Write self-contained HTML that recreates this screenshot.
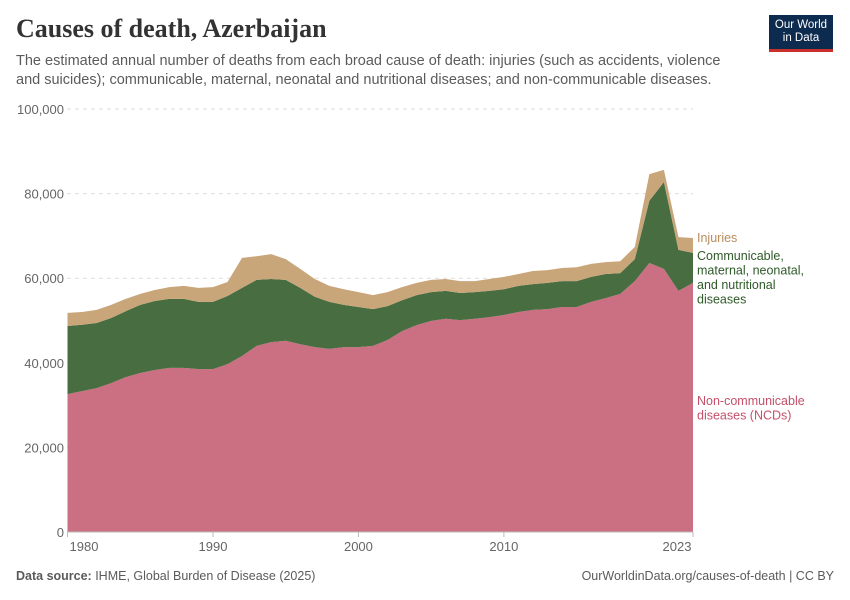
<!DOCTYPE html>
<html><head><meta charset="utf-8"><style>
body{margin:0;background:#fff;font-family:"Liberation Sans",sans-serif;}
#wrap{position:relative;width:850px;height:600px;overflow:hidden;}
h1{position:absolute;left:16px;top:14px;margin:0;font-family:"Liberation Serif",serif;font-weight:bold;font-size:26px;color:#333;}
.sub{position:absolute;left:16px;top:52px;width:720px;font-size:14.5px;line-height:19px;color:#5b5b5b;margin:0;}
.logo{position:absolute;left:769px;top:15px;width:64px;height:37px;background:#0d2a4f;color:#fff;font-size:11.5px;line-height:13px;text-align:center;padding-top:4px;box-sizing:border-box;border-bottom:3px solid #c9302c;}
.foot{position:absolute;top:569px;font-size:12.5px;color:#5b5b5b;}
</style></head><body><div id="wrap">
<h1>Causes of death, Azerbaijan</h1>
<p class="sub">The estimated annual number of deaths from each broad cause of death: injuries (such as accidents, violence and suicides); communicable, maternal, neonatal and nutritional diseases; and non-communicable diseases.</p>
<div class="logo">Our World<br>in Data</div>
<svg id="svg" width="850" height="600" style="position:absolute;left:0;top:0"></svg>
<div class="foot" style="left:16px"><b>Data source:</b> IHME, Global Burden of Disease (2025)</div>
<div class="foot" style="right:16px">OurWorldinData.org/causes-of-death | CC BY</div>
</div>
<script>
const years=[];for(let y=1980;y<=2023;y++)years.push(y);
const ncd=[32.6,33.3,34,35.2,36.6,37.6,38.3,38.8,38.8,38.5,38.5,39.7,41.6,44,44.9,45.2,44.4,43.7,43.3,43.7,43.7,44,45.4,47.5,48.9,49.9,50.4,50.1,50.4,50.8,51.3,52,52.5,52.7,53.2,53.2,54.4,55.3,56.3,59.3,63.6,62.2,57,58.9];
const comm=[16.1,15.7,15.4,15.4,15.6,16.1,16.3,16.3,16.3,15.9,15.9,16.1,16.1,15.6,14.9,14.4,13.3,11.9,11.1,10,9.5,8.7,8,7.3,7.1,6.8,6.6,6.4,6.3,6.2,6.1,6.2,6.1,6.2,6.1,6.1,5.9,5.7,4.9,5.2,14.7,20.5,9.7,7.1];
const inj=[3.1,3,3.1,3.1,2.9,2.6,2.6,2.8,3.1,3.3,3.5,3.3,7.1,5.6,5.9,4.9,4.5,4.2,3.8,3.7,3.5,3.3,3.3,3.1,2.9,2.9,2.8,2.8,2.6,2.8,2.9,2.8,3.1,3,3.1,3.3,3.1,2.8,2.8,2.9,6.3,2.9,3,3.5];
const yTicks=[0,20000,40000,60000,80000,100000];
const xTicks=[1980,1990,2000,2010,2023];
const svg=document.getElementById('svg');const NS='http://www.w3.org/2000/svg';
const X=y=>67.5+(y-1980)*(693-67.5)/43;
const Y=v=>532-v*1000*(423/100000);
function mk(t,a){const e=document.createElementNS(NS,t);for(const k in a)e.setAttribute(k,a[k]);svg.appendChild(e);return e;}
yTicks.forEach(v=>{
 if(v>0){const l=mk('line',{x1:67,x2:693,y1:Y(v/1000),y2:Y(v/1000),stroke:'#ddd','stroke-dasharray':'4,4'});
 
 }
 const t=mk('text',{x:64,y:Y(v/1000)+5,'text-anchor':'end','font-size':13,fill:'#666'});t.textContent=v.toLocaleString('en-US');
 
 
});
const b0=years.map(()=>0),b1=ncd.slice(),b2=ncd.map((v,i)=>v+comm[i]),b3=b2.map((v,i)=>v+inj[i]);
function area(lo,hi,col,name){
 let d='M'+years.map((y,i)=>X(y)+','+Y(hi[i])).join('L');
 for(let i=years.length-1;i>=0;i--)d+='L'+X(years[i])+','+Y(lo[i]);
 const p=mk('path',{d:d+'Z',fill:col});
 
 
}
area(b0,b1,'#ca7082','ncd-area');area(b1,b2,'#486d40','communicable-area');area(b2,b3,'#c9a57a','injuries-area');
const ax=mk('line',{x1:67,x2:693,y1:532,y2:532,stroke:'#bbb'});


xTicks.forEach(y=>{
 const tk=mk('line',{x1:X(y),x2:X(y),y1:532,y2:537,stroke:'#bbb'});
 
 
 const xx=y===1980?84:(y===2023?677:X(y));
 const t=mk('text',{x:xx,y:551,'text-anchor':'middle','font-size':13,fill:'#666'});t.textContent=y;
 
 
});
function lab(lines,y0,col,name){lines.forEach((s,i)=>{const t=mk('text',{x:697,y:y0+i*14.5,'font-size':12.5,fill:col});t.textContent=s;
 
 });}
lab(['Injuries'],242,'#b88c5c','injuries-label');
lab(['Communicable,','maternal, neonatal,','and nutritional','diseases'],260,'#2f5a2a','communicable-label');
lab(['Non-communicable','diseases (NCDs)'],405,'#c4506a','ncd-label');
</script></body></html>
